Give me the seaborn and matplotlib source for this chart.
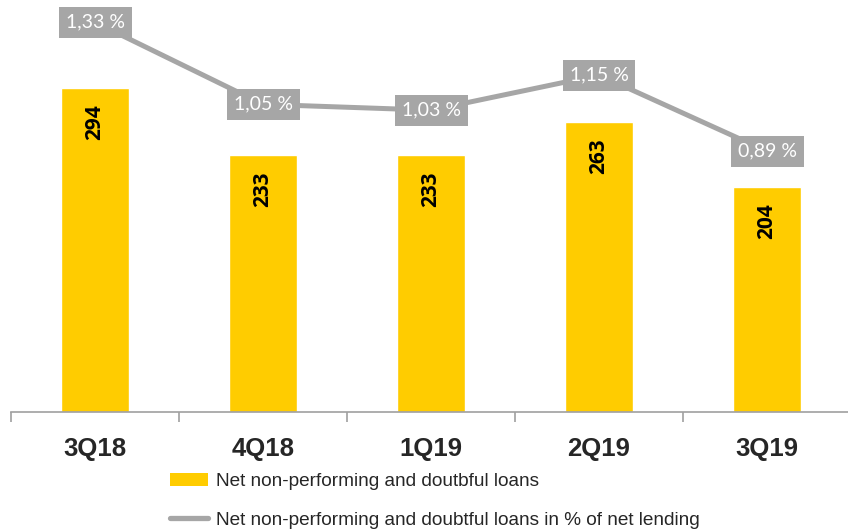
import numpy as np
import pandas as pd
import matplotlib
matplotlib.use('Agg')
import matplotlib.pyplot as plt
import seaborn as sns
from matplotlib.patches import Patch
from matplotlib.lines import Line2D

# data
quarters = ['3Q18', '4Q18', '1Q19', '2Q19', '3Q19']
npl_amount = [294, 233, 233, 263, 204]
npl_ratio = [1.33, 1.05, 1.03, 1.15, 0.89]
ratio_labels = ['1,33 %', '1,05 %', '1,03 %', '1,15 %', '0,89 %']

bar_name = 'Net non-performing and doutbful loans'
line_name = 'Net non-performing and doubtful loans in % of net lending'

yellow = '#FFCC00'
grey = '#A6A6A6'

sns.set_style('white')
plt.rcParams['font.family'] = ['Liberation Sans', 'DejaVu Sans']

df = pd.DataFrame({'quarter': quarters, 'amount': npl_amount,
                   'ratio': npl_ratio, 'pos': np.arange(len(quarters))})

fig = plt.figure(figsize=(8.48, 5.32), dpi=100)
ax = fig.add_axes([11 / 848, 120 / 532, 840 / 848, 412 / 532])

sns.barplot(data=df, x='quarter', y='amount', color=yellow, width=0.4,
            saturation=1, ax=ax)
ax.set_ylim(0, 374)
ax.set_xlim(-0.5, 4.5)

# bar value labels
for p, v in zip(ax.patches, npl_amount):
    ax.annotate(str(v), (p.get_x() + p.get_width() / 2, p.get_height()),
                xytext=(0, -11.5), textcoords='offset points', rotation=90,
                ha='center', va='top', fontsize=15, fontweight='bold',
                family=['Open Sans', 'DejaVu Sans'], color='black')

# axis styling
for s in ['top', 'right', 'left']:
    ax.spines[s].set_visible(False)
ax.spines['bottom'].set_color('#A0A0A0')
ax.spines['bottom'].set_linewidth(1.2)
ax.set_yticks([])
ax.set_xlabel('')
ax.set_ylabel('')
ax.set_xticks(np.arange(-0.5, 5, 1), minor=True)
ax.tick_params(axis='x', which='minor', bottom=True, length=7, color='#A0A0A0',
               width=1.2, direction='out')
ax.tick_params(axis='x', which='major', bottom=False, length=0, pad=18, labelsize=18.5)
for t in ax.get_xticklabels():
    t.set_fontweight('bold')

# ratio line on second axis
ax2 = ax.twinx()
sns.lineplot(data=df, x='pos', y='ratio', color=grey, linewidth=3.6, ax=ax2)
ax2.set_ylim(0, 1.406)
ax2.set_yticks([])
ax2.set_ylabel('')
for s in ax2.spines.values():
    s.set_visible(False)

for x, y, lab in zip(df['pos'], npl_ratio, ratio_labels):
    ax2.text(x, y, lab, ha='center', va='center', color='white', fontsize=14,
             family=['Lato', 'DejaVu Sans'],
             bbox=dict(boxstyle='square,pad=0.36', fc=grey, ec='none'))

handles = [Patch(facecolor=yellow, edgecolor='none'),
           Line2D([0], [0], color=grey, linewidth=3.8, solid_capstyle='round')]
fig.legend(handles, [bar_name, line_name], loc='upper left',
           bbox_to_anchor=(162 / 848, 1 - 465 / 532), borderaxespad=0,
           frameon=False, fontsize=13.7, handlelength=2.0, labelspacing=1.12,
           handletextpad=0.46)

fig.savefig('out.png', dpi=100)
